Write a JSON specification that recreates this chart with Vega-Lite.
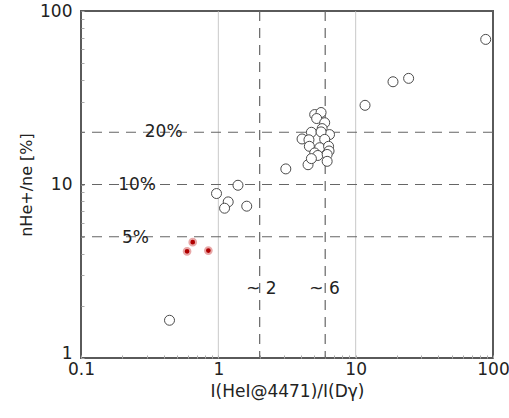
{
  "$schema": "https://vega.github.io/schema/vega-lite/v6.json",
  "width": 412,
  "height": 347,
  "autosize": {"type": "none"},
  "padding": {"left": 81, "top": 11, "right": 16, "bottom": 60},
  "background": "white",
  "config": {
    "view": {"stroke": "#5a5a5a", "strokeWidth": 2},
    "font": "DejaVu Sans",
    "axis": {"grid": false, "domain": false, "labelFont": "DejaVu Sans", "titleFont": "DejaVu Sans", "labelColor": "#222", "titleColor": "#222", "labelFontSize": 17, "titleFontSize": 17, "titleFontWeight": "normal", "tickColor": "#aaa", "tickWidth": 1}
  },
  "data": {"values": [
      {"kind": "grid", "x": 1},
      {"kind": "grid", "x": 10},
      {"kind": "hrule", "y": 5},
      {"kind": "hrule", "y": 10},
      {"kind": "hrule", "y": 20},
      {"kind": "vrule", "x": 2},
      {"kind": "vrule", "x": 6},
      {"kind": "open", "x": 88.5, "y": 68.6},
      {"kind": "open", "x": 18.7, "y": 39.1},
      {"kind": "open", "x": 24.3, "y": 40.9},
      {"kind": "open", "x": 11.7, "y": 28.6},
      {"kind": "open", "x": 3.1, "y": 12.3},
      {"kind": "open", "x": 1.39, "y": 9.9},
      {"kind": "open", "x": 0.97, "y": 8.87},
      {"kind": "open", "x": 1.18, "y": 7.94},
      {"kind": "open", "x": 1.11, "y": 7.3},
      {"kind": "open", "x": 1.61, "y": 7.5},
      {"kind": "open", "x": 0.441, "y": 1.65},
      {"kind": "open", "x": 5.03, "y": 25.3},
      {"kind": "open", "x": 5.6, "y": 26.0},
      {"kind": "open", "x": 5.2, "y": 24.0},
      {"kind": "open", "x": 5.95, "y": 22.7},
      {"kind": "open", "x": 5.7, "y": 21.0},
      {"kind": "open", "x": 4.76, "y": 20.0},
      {"kind": "open", "x": 4.07, "y": 18.3},
      {"kind": "open", "x": 4.57, "y": 18.1},
      {"kind": "open", "x": 6.45, "y": 19.4},
      {"kind": "open", "x": 5.6, "y": 20.1},
      {"kind": "open", "x": 5.95, "y": 18.2},
      {"kind": "open", "x": 4.6, "y": 16.6},
      {"kind": "open", "x": 5.47, "y": 16.3},
      {"kind": "open", "x": 6.35, "y": 16.6},
      {"kind": "open", "x": 5.03, "y": 15.2},
      {"kind": "open", "x": 5.3, "y": 14.7},
      {"kind": "open", "x": 6.4, "y": 15.6},
      {"kind": "open", "x": 6.2, "y": 14.9},
      {"kind": "open", "x": 4.5, "y": 13.0},
      {"kind": "open", "x": 6.2, "y": 13.6},
      {"kind": "open", "x": 4.76, "y": 14.1},
      {"kind": "red", "x": 0.651, "y": 4.65},
      {"kind": "red", "x": 0.592, "y": 4.12},
      {"kind": "red", "x": 0.846, "y": 4.16},
      {"kind": "label", "x": 0.40, "y": 20, "t": "20%"},
      {"kind": "label", "x": 0.256, "y": 10, "t": "10%"},
      {"kind": "label", "x": 0.249, "y": 4.92, "t": "5%"},
      {"kind": "label", "x": 2.06, "y": 2.5, "t": "~ 2"},
      {"kind": "label", "x": 5.94, "y": 2.5, "t": "~ 6"}
  ]},
  "layer": [
    {
      "transform": [{"filter": "datum.kind == 'grid'"}],
      "mark": {"type": "rule", "color": "#bbb", "strokeWidth": 0.8},
      "encoding": {"x": {"field": "x", "type": "quantitative"}}
    },
    {
      "transform": [{"filter": "datum.kind == 'hrule'"}],
      "mark": {"type": "rule", "color": "#666", "strokeWidth": 1.2, "strokeDash": [10, 7]},
      "encoding": {"y": {"field": "y", "type": "quantitative"}}
    },
    {
      "transform": [{"filter": "datum.kind == 'vrule'"}],
      "mark": {"type": "rule", "color": "#666", "strokeWidth": 1.2, "strokeDash": [10, 7]},
      "encoding": {"x": {"field": "x", "type": "quantitative"}}
    },
    {
      "transform": [{"filter": "datum.kind == 'open'"}],
      "mark": {"type": "point", "shape": "circle", "filled": false, "fill": "white", "stroke": "#4a4a4a", "strokeWidth": 1, "size": 100, "opacity": 1},
      "encoding": {
        "x": {"field": "x", "type": "quantitative", "title": "I(HeI@4471)/I(Dγ)", "scale": {"type": "log", "domain": [0.1, 100], "nice": false}, "axis": {"values": [0.1,0.2,0.3,0.4,0.5,0.6,0.7,0.8,0.9,1,2,3,4,5,6,7,8,9,10,20,30,40,50,60,70,80,90,100], "labelExpr": "indexof([0.1,1,10,100], datum.value) >= 0 ? format(datum.value, '~g') : ''", "tickSize": -3, "labelPadding": 6, "titlePadding": 6, "labelFlush": false, "labelOverlap": false}},
        "y": {"field": "y", "type": "quantitative", "title": "nHe+/ne [%]", "scale": {"type": "log", "domain": [1, 100], "nice": false}, "axis": {"values": [1,2,3,4,5,6,7,8,9,10,20,30,40,50,60,70,80,90,100], "labelExpr": "indexof([1,10,100], datum.value) >= 0 ? format(datum.value, '~g') : ''", "tickSize": -3, "labelPadding": 12, "titlePadding": 5, "titleFontSize": 16, "labelFlush": false, "labelOverlap": false, "labelOffset": {"condition": {"test": "datum.value == 1", "value": -5}, "value": 0}}}
      }
    },
    {
      "transform": [{"filter": "datum.kind == 'red'"}],
      "mark": {"type": "point", "shape": "circle", "filled": true, "fill": "#b00000", "stroke": "#e8a8a8", "strokeWidth": 2, "size": 45, "opacity": 1},
      "encoding": {
        "x": {"field": "x", "type": "quantitative"},
        "y": {"field": "y", "type": "quantitative"}
      }
    },
    {
      "transform": [{"filter": "datum.kind == 'label'"}],
      "mark": {"type": "text", "fontSize": 17, "font": "DejaVu Sans", "color": "#222", "align": "center", "baseline": "middle"},
      "encoding": {
        "x": {"field": "x", "type": "quantitative"},
        "y": {"field": "y", "type": "quantitative"},
        "text": {"field": "t"}
      }
    }
  ]
}
